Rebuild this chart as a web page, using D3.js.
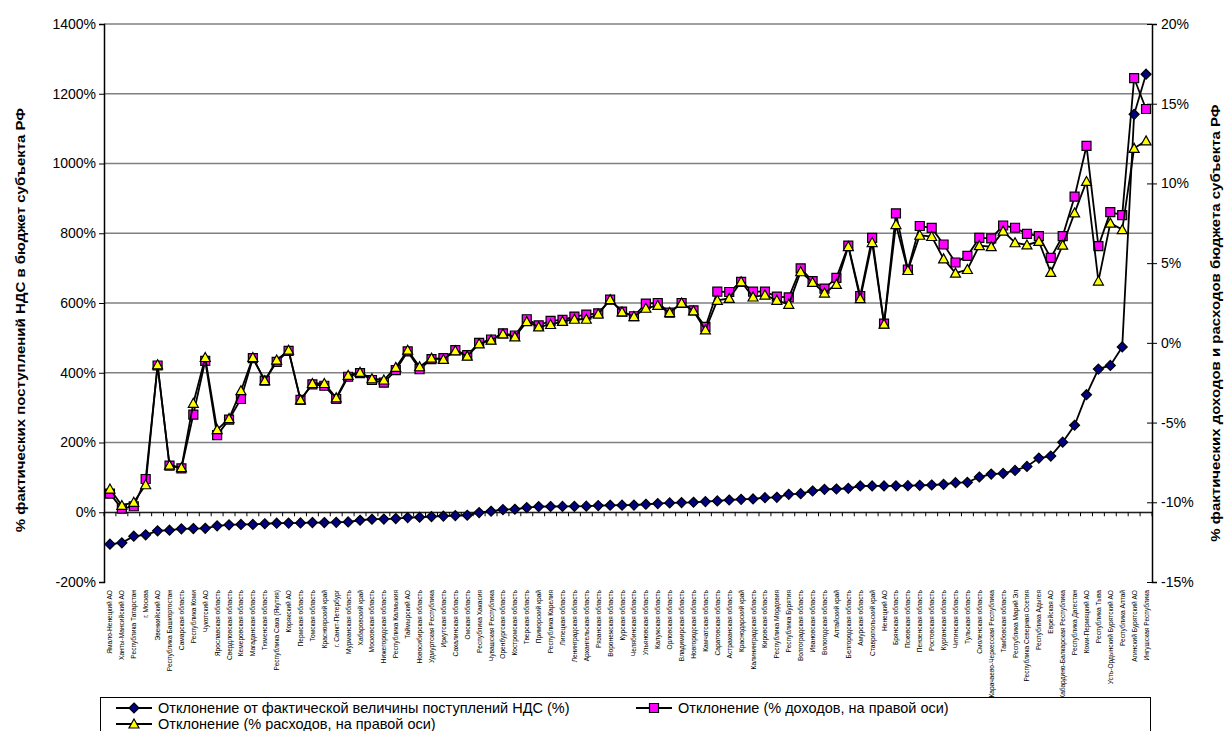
<!DOCTYPE html>
<html>
<head>
<meta charset="utf-8">
<script src="https://cdn.jsdelivr.net/npm/d3@7"></script>
<style>
    body { margin: 0; background: #fff; }
    svg { display: block; font-family: "Liberation Sans", Arial, sans-serif; }
</style>
</head>
<body>
<div class="container"></div>
<script>
const categories = [
    'Ямало-Ненецкий АО', 'Ханты-Мансийский АО', 'Республика Татарстан', 'г. Москва', 'Эвенкийский АО',
    'Республика Башкортостан', 'Самарская область', 'Республика Коми', 'Чукотский АО', 'Ярославская область',
    'Свердловская область', 'Кемеровская область', 'Магаданская область', 'Тюменская область', 'Республика Саха (Якутия)',
    'Корякский АО', 'Пермская область', 'Томская область', 'Красноярский край', 'г. Санкт-Петербург',
    'Мурманская область', 'Хабаровский край', 'Московская область', 'Нижегородская область', 'Республика Калмыкия',
    'Таймырский АО', 'Новосибирская область', 'Удмуртская Республика', 'Иркутская область', 'Сахалинская область',
    'Омская область', 'Республика Хакасия', 'Чувашская Республика', 'Оренбургская область', 'Костромская область',
    'Тверская область', 'Приморский край', 'Республика Карелия', 'Липецкая область', 'Ленинградская область',
    'Архангельская область', 'Рязанская область', 'Воронежская область', 'Курская область', 'Челябинская область',
    'Ульяновская область', 'Калужская область', 'Орловская область', 'Владимирская область', 'Новгородская область',
    'Камчатская область', 'Саратовская область', 'Астраханская область', 'Краснодарский край', 'Калининградская область',
    'Кировская область', 'Республика Мордовия', 'Республика Бурятия', 'Волгоградская область', 'Ивановская область',
    'Вологодская область', 'Алтайский край', 'Белгородская область', 'Амурская область', 'Ставропольский край',
    'Ненецкий АО', 'Брянская область', 'Псковская область', 'Пензенская область', 'Ростовская область',
    'Курганская область', 'Читинская область', 'Тульская область', 'Смоленская область', 'Карачаево-Черкесская Республика',
    'Тамбовская область', 'Республика Марий Эл', 'Республика Северная Осетия', 'Республика Адыгея', 'Еврейская АО',
    'Кабардино-Балкарская Республика', 'Республика Дагестан', 'Коми-Пермяцкий АО', 'Республика Тыва', 'Усть-Ордынский Бурятский АО',
    'Республика Алтай', 'Агинский Бурятский АО', 'Ингушская Республика'
];

// % deviation from actual VAT revenue (left axis)
const vatDev = [
    -91.4, -87.6, -68.6, -64.8, -53.3, -51.4, -47.6, -46.7, -46, -39,
    -36, -35, -35, -33, -31.4, -31, -30.5, -29.5, -29.5, -29,
    -27.6, -22.9, -20, -19.5, -18, -15.2, -14.3, -12.4, -11, -9.5,
    -8.6, -1, 2.9, 7.6, 8.6, 13.3, 16.2, 16.5, 16.8, 17,
    17.5, 19, 20, 20.3, 20.6, 22.9, 24.8, 26.7, 27.6, 28.6,
    30.5, 32.4, 35.2, 37.1, 38.1, 41.9, 42.9, 51.4, 53.3, 61,
    65.7, 66.7, 68.6, 75.2, 75.4, 75.6, 75.8, 76.2, 77.1, 78.1,
    80, 84.8, 85.7, 101, 109.5, 111.4, 120, 131.4, 155.2, 161,
    201, 249.5, 337, 410.5, 421, 474, 1141, 1256
];

// % of income (right axis)
const incomeDev = [
    -9.46, -10.4, -10.25, -8.54, -1.42, -7.7, -7.875, -4.5, -1.125, -5.79,
    -4.81, -3.52, -0.96, -2.375, -1.19, -0.5, -3.58, -2.6, -2.69, -3.52,
    -2.125, -1.9, -2.33, -2.5, -1.71, -0.54, -1.65, -1.02, -0.96, -0.46,
    -0.77, 0.0, 0.21, 0.6, 0.46, 1.48, 1.1, 1.375, 1.44, 1.65,
    1.77, 1.85, 2.71, 1.96, 1.67, 2.46, 2.5, 1.9, 2.5, 2.04,
    1.0, 3.21, 3.19, 3.83, 3.21, 3.21, 2.9, 2.85, 4.67, 3.875,
    3.4, 4.08, 6.1, 2.94, 6.58, 1.21, 8.125, 4.6, 7.33, 7.21,
    6.17, 5.04, 5.46, 6.58, 6.55, 7.36, 7.22, 6.83, 6.7, 5.33,
    6.7, 9.17, 12.35, 6.07, 8.2, 8.01, 16.6, 14.67
];

// % of spending (right axis)
const spendDev = [
    -9.17, -10.2, -10.0, -8.9, -1.375, -7.67, -7.83, -3.79, -0.92, -5.44,
    -4.75, -3.0, -0.92, -2.375, -1.08, -0.46, -3.58, -2.55, -2.55, -3.45,
    -2.04, -1.85, -2.25, -2.33, -1.54, -0.46, -1.5, -0.96, -1.04, -0.5,
    -0.83, -0.06, 0.17, 0.56, 0.375, 1.33, 1.0, 1.15, 1.35, 1.48,
    1.48, 1.81, 2.71, 1.94, 1.65, 2.17, 2.35, 1.9, 2.5, 2.0,
    0.81, 2.67, 2.79, 3.83, 2.875, 3.0, 2.67, 2.42, 4.46, 3.79,
    3.125, 3.67, 6.04, 2.77, 6.29, 1.17, 7.42, 4.54, 6.75, 6.67,
    5.27, 4.375, 4.6, 6.1, 6.03, 7.01, 6.28, 6.14, 6.36, 4.42,
    6.125, 8.15, 10.125, 3.875, 7.51, 7.1, 12.2, 12.67
];

const leftTicks = [-200, 0, 200, 400, 600, 800, 1000, 1200, 1400];
const rightTicks = [-15, -10, -5, 0, 5, 10, 15, 20];

const seriesNames = [
    'Отклонение от фактической величины поступлений НДС (%)',
    'Отклонение (% доходов, на правой оси)',
    'Отклонение (% расходов, на правой оси)'
];

const width = 1228, height = 731;
const plot = { left: 104, right: 1152, top: 24, bottom: 582 };

const x = d3.scaleBand().domain(categories).range([plot.left, plot.right]).padding(0);
const yL = d3.scaleLinear().domain([-200, 1400]).range([plot.bottom, plot.top]);
const yR = d3.scaleLinear().domain([-15, 20]).range([plot.bottom, plot.top]);
const cx = i => x(categories[i]) + x.bandwidth() / 2;

const svg = d3.select('.container').append('svg')
    .attr('width', width)
    .attr('height', height);

// gridlines
svg.append('g')
    .selectAll('line')
    .data(leftTicks.filter(t => t > -200))
    .enter().append('line')
    .attr('x1', plot.left).attr('x2', plot.right)
    .attr('y1', d => yL(d)).attr('y2', d => yL(d))
    .attr('stroke', '#808080').attr('stroke-width', 1.5);

// left axis
const gL = svg.append('g')
    .attr('transform', `translate(${plot.left},0)`)
    .call(d3.axisLeft(yL).tickValues(leftTicks).tickFormat(d => d + '%').tickSize(5).tickPadding(3));
gL.select('.domain').attr('stroke', '#000').attr('stroke-width', 1.5);
gL.selectAll('text').attr('font-size', 14).attr('fill', '#000').attr('font-family', '"Liberation Sans", Arial');

// right axis
const gR = svg.append('g')
    .attr('transform', `translate(${plot.right},0)`)
    .call(d3.axisRight(yR).tickValues(rightTicks).tickFormat(d => d + '%').tickSize(5).tickPadding(4));
gR.select('.domain').attr('stroke', '#000').attr('stroke-width', 1.5);
gR.selectAll('.tick line').attr('x1', -5);
gR.selectAll('text').attr('font-size', 14).attr('fill', '#000').attr('font-family', '"Liberation Sans", Arial');

// category axis crossing at 0
const gX = svg.append('g')
    .attr('transform', `translate(0,${yL(0)})`)
    .call(d3.axisBottom(x).tickSize(0).tickFormat(''));
gX.select('.domain').attr('stroke', '#000').attr('stroke-width', 1.2);
gX.selectAll('.tick').remove();
gX.selectAll('.cat-tick')
    .data(d3.range(categories.length + 1))
    .enter().append('line')
    .attr('x1', i => plot.left + i * x.step())
    .attr('x2', i => plot.left + i * x.step())
    .attr('y1', 0).attr('y2', 4)
    .attr('stroke', '#000');

// category labels at bottom of plot area
svg.append('g')
    .selectAll('text')
    .data(categories)
    .enter().append('text')
    .attr('transform', d => `translate(${x(d) + x.bandwidth() / 2 + 2.5},${plot.bottom + 8}) rotate(-90)`)
    .attr('text-anchor', 'end')
    .attr('font-size', 6.6)
    .attr('fill', '#000')
    .text(d => d);

// axis titles (glyphs a bit squeezed across, like the source image)
svg.append('text')
    .attr('transform', `translate(25,${(plot.top + plot.bottom) / 2 + 17}) scale(0.82,1) rotate(-90)`)
    .attr('text-anchor', 'middle')
    .attr('font-size', 15).attr('font-weight', 'bold')
    .text('% фактических поступлений НДС в бюджет субъекта РФ');

svg.append('text')
    .attr('transform', `translate(1220,${(plot.top + plot.bottom) / 2 + 20}) scale(0.82,1) rotate(-90)`)
    .attr('text-anchor', 'middle')
    .attr('font-size', 15).attr('font-weight', 'bold')
    .text('% фактических доходов и расходов бюджета субъекта РФ');

// markers
const diamond = 'M0,-5L5,0L0,5L-5,0Z';
const square = 'M-4.5,-4.5H4.5V4.5H-4.5Z';
const triangle = 'M0,-5L5,4L-5,4Z';

const series = [
    { values: vatDev, y: yL, path: diamond, fill: '#000080' },
    { values: incomeDev, y: yR, path: square, fill: '#ff00ff' },
    { values: spendDev, y: yR, path: triangle, fill: '#ffff00' }
];

series.forEach(s => {
    const line = d3.line().x((d, i) => cx(i)).y(d => s.y(d));
    svg.append('path')
        .datum(s.values)
        .attr('d', line)
        .attr('fill', 'none')
        .attr('stroke', '#000')
        .attr('stroke-width', 1.8);

    svg.append('g')
        .selectAll('path')
        .data(s.values)
        .enter().append('path')
        .attr('transform', (d, i) => `translate(${cx(i)},${s.y(d)})`)
        .attr('d', s.path)
        .attr('fill', s.fill)
        .attr('stroke', '#000')
        .attr('stroke-width', 1.2);
});

// legend
const legend = svg.append('g').attr('id', 'legend');
legend.append('rect')
    .attr('x', 100.5).attr('y', 697.5)
    .attr('width', 1050).attr('height', 45)
    .attr('fill', '#fff').attr('stroke', '#000');

const legendPos = [[116, 708], [636, 708], [116, 724]];
series.forEach((s, i) => {
    const [lx, ly] = legendPos[i];
    const item = legend.append('g').attr('transform', `translate(${lx},${ly})`);
    item.append('line')
        .attr('x1', 0).attr('x2', 36).attr('y1', 0).attr('y2', 0)
        .attr('stroke', '#000').attr('stroke-width', 1.8);
    item.append('path')
        .attr('transform', 'translate(18,0)')
        .attr('d', s.path)
        .attr('fill', s.fill)
        .attr('stroke', '#000')
        .attr('stroke-width', 1.2);
    item.append('text')
        .attr('x', 42).attr('y', 5)
        .attr('font-size', 14.5)
        .text(seriesNames[i]);
});
</script>
</body>
</html>
